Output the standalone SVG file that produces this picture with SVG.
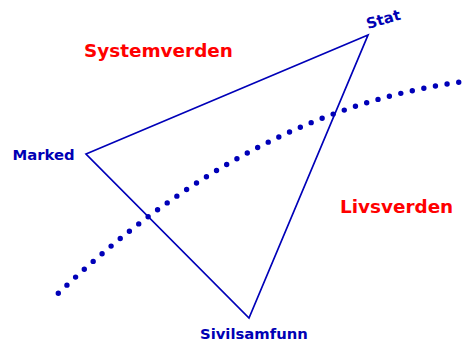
<svg xmlns="http://www.w3.org/2000/svg" width="476" height="344" viewBox="0 0 476 344">
<style>
.lbl{font-family:"DejaVu Sans",Verdana,sans-serif;font-weight:bold;fill:#0000b4;font-size:14.8px}
.big{font-family:"DejaVu Sans",Verdana,sans-serif;font-weight:bold;fill:#ff0000;font-size:18.4px}
</style>
<rect width="476" height="344" fill="#ffffff"/>
<g id="connectors">
<polygon points="368,35 86,154 249,318" fill="none" stroke="#0000b8" stroke-width="1.7"/>
<path d="M58.3,293.3 Q252,108 468,81" fill="none" stroke="#0000b8" stroke-width="5.4" stroke-linecap="round" stroke-dasharray="0 11.8"/>
</g>
<g id="stat"><text class="lbl" x="368" y="29" transform="rotate(-16 368 29)">Stat</text></g>
<g id="marked"><text class="lbl" x="12.5" y="160">Marked</text></g>
<g id="sivilsamfunn"><text class="lbl" x="200" y="339">Sivilsamfunn</text></g>
<g id="systemverden"><text class="big" x="84" y="57">Systemverden</text></g>
<g id="livsverden"><text class="big" x="340" y="213">Livsverden</text></g>
</svg>
